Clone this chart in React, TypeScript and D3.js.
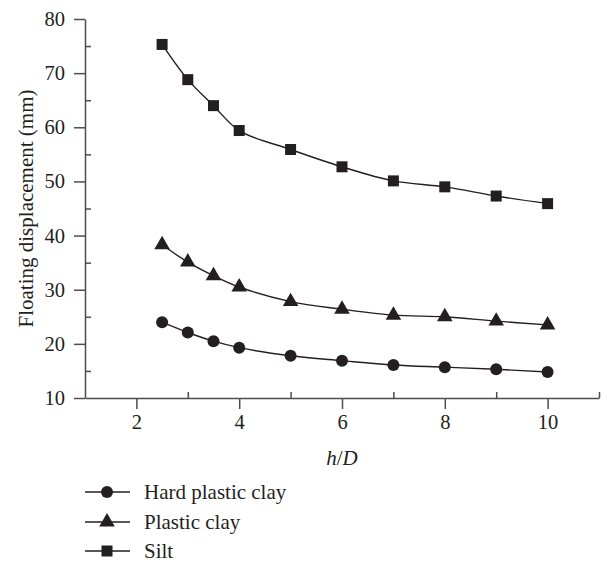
import React, { useEffect, useRef } from 'react';
import * as d3 from 'd3';

// h/D values
const hD = [2.5, 3, 3.5, 4, 5, 6, 7, 8, 9, 10];
// Floating displacement (mm)
const hardPlasticClay = [24.0, 22.1, 20.5, 19.3, 17.8, 16.9, 16.1, 15.7, 15.3, 14.8];
const plasticClay = [38.3, 35.1, 32.6, 30.5, 27.8, 26.4, 25.3, 25.0, 24.2, 23.5];
const silt = [75.3, 68.8, 64.0, 59.4, 55.9, 52.7, 50.1, 49.0, 47.3, 45.9];

const seriesNames = ['Hard plastic clay', 'Plastic clay', 'Silt'];
const seriesShapes = ['circle', 'triangle', 'square'];
const xMajorTicks = [2, 4, 6, 8, 10];
const xMinorTicks = [3, 5, 7, 9, 11];
const yMajorTicks = [10, 20, 30, 40, 50, 60, 70, 80];
const yMinorTicks = [15, 25, 35, 45, 55, 65, 75];

const W = 608;
const H = 563;
const INK = '#231f20';
const AXIS = '#4d4d4d';
const FONT = '"Liberation Serif", "DejaVu Serif", serif';

const App = () => {
  const svgRef = useRef<SVGSVGElement>(null);

  useEffect(() => {
    const svg = d3.select(svgRef.current);
    svg.selectAll('*').remove();

    const x = d3.scaleLinear().domain([1, 11]).range([85, 599]);
    const y = d3.scaleLinear().domain([10, 80]).range([398, 19]);

    const allSeries = [hardPlasticClay, plasticClay, silt];

    const symbolFor = (shape: string) => {
      if (shape === 'circle') return d3.symbol().type(d3.symbolCircle).size(Math.PI * 36)();
      if (shape === 'square') return d3.symbol().type(d3.symbolSquare).size(121)();
      return d3.symbol().type(d3.symbolTriangle).size(105)();
    };

    // Ejes
    const xAxisG = svg.append('g').attr('transform', `translate(0,${y(10)})`);
    xAxisG.call(d3.axisBottom(x).tickValues(xMajorTicks).tickSize(11).tickSizeOuter(0).tickPadding(5).tickFormat(d3.format('d')));
    xAxisG.append('g').call(d3.axisBottom(x).tickValues(xMinorTicks).tickSize(-6).tickFormat(() => ''))
      .select('.domain').remove();

    const yAxisG = svg.append('g').attr('transform', `translate(${x(1)},0)`);
    yAxisG.call(d3.axisLeft(y).tickValues(yMajorTicks).tickSize(11).tickSizeOuter(0).tickPadding(9).tickFormat(d3.format('d')));
    yAxisG.append('g').call(d3.axisLeft(y).tickValues(yMinorTicks).tickSize(-6).tickFormat(() => ''))
      .select('.domain').remove();

    svg.selectAll('.domain, .tick line')
      .attr('stroke', AXIS)
      .attr('stroke-width', 1.5);
    svg.selectAll('.tick text')
      .style('font-family', FONT)
      .style('font-size', '20.5px')
      .attr('fill', INK);

    // Etiquetas de ejes
    svg.append('text')
      .attr('transform', `translate(33,${(y(10) + y(80)) / 2}) rotate(-90)`)
      .attr('text-anchor', 'middle')
      .style('font-family', FONT)
      .style('font-size', '21px')
      .attr('fill', INK)
      .text('Floating displacement (mm)');

    const xl = svg.append('text')
      .attr('x', (x(1) + x(11)) / 2)
      .attr('y', 465)
      .attr('text-anchor', 'middle')
      .style('font-family', FONT)
      .style('font-size', '21px')
      .style('font-style', 'italic')
      .attr('fill', INK);
    xl.append('tspan').text('h');
    xl.append('tspan').style('font-style', 'normal').text('/');
    xl.append('tspan').text('D');

    // Curvas
    const line = d3.line<number>()
      .x((_, i) => x(hD[i]))
      .y(d => y(d))
      .curve(d3.curveCatmullRom.alpha(0.5));

    allSeries.forEach((vals, si) => {
      svg.append('path')
        .datum(vals)
        .attr('fill', 'none')
        .attr('stroke', INK)
        .attr('stroke-width', 1.4)
        .attr('d', line);

      svg.selectAll(`.pt${si}`)
        .data(vals)
        .enter().append('path')
        .attr('class', `pt${si}`)
        .attr('transform', (d, i) => `translate(${x(hD[i])},${y(d)})`)
        .attr('d', symbolFor(seriesShapes[si]))
        .attr('fill', INK);
    });

    // Leyenda
    const legendY = [492, 522, 551];
    seriesNames.forEach((name, i) => {
      const g = svg.append('g').attr('transform', `translate(0,${legendY[i]})`);
      g.append('line')
        .attr('x1', 85).attr('x2', 130)
        .attr('stroke', INK).attr('stroke-width', 1.4);
      g.append('path')
        .attr('transform', 'translate(107,0)')
        .attr('d', symbolFor(seriesShapes[i]))
        .attr('fill', INK);
      g.append('text')
        .attr('x', 144)
        .attr('y', 6.5)
        .style('font-family', FONT)
        .style('font-size', '21px')
        .attr('fill', INK)
        .text(name);
    });
  }, []);

  return (
    <svg ref={svgRef} width={W} height={H} style={{ position: 'absolute', left: 0, top: 0, background: '#fff' }} />
  );
};

export default App;
